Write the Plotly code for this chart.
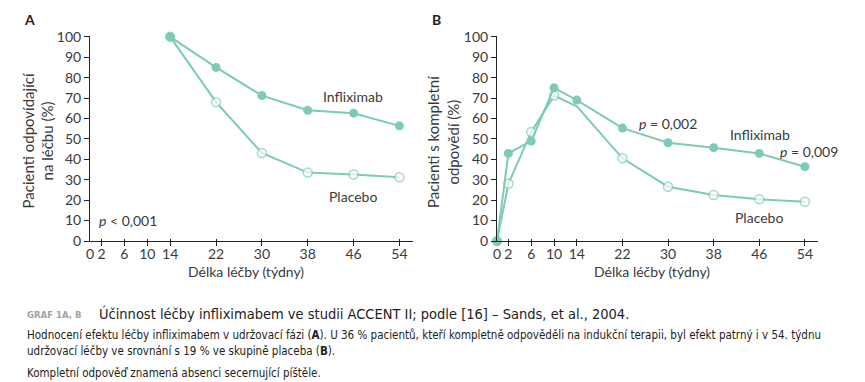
import plotly.graph_objects as go

# ---- data ----
weeks_a = [14, 22, 30, 38, 46, 54]
infl_a = [100, 85, 71.2, 64, 62.6, 56.4]
plac_a = [100, 68, 43.1, 33.5, 32.6, 31.2]

weeks_b = [0, 2, 6, 10, 14, 22, 30, 38, 46, 54]
infl_b = [0, 42.9, 49, 75, 69, 55.3, 48.1, 45.7, 42.9, 36.4]
plac_b = [0, 28, 53.4, 71.2, 66, 40.5, 26.6, 22.5, 20.4, 19.2]

tick_weeks = [0, 2, 6, 10, 14, 22, 30, 38, 46, 54]
tick_pct = [0, 10, 20, 30, 40, 50, 60, 70, 80, 90, 100]

TEAL = "#7dccb1"
TXT = "#3a3a3a"
FONT = "Lato"

# page body has an 8px margin: work in screen pixels, convert to figure
OFF = 8
W, H = 865 - OFF, 382 - OFF

def px(x, y):
    return (x - OFF) / W, (H - (y - OFF)) / H

fig = go.Figure()

def add_panel(xs, yi, yp, xa, ya, hidden_plac=()):
    sizes = [0 if x in hidden_plac else 9 for x in xs]
    fig.add_trace(go.Scatter(
        x=xs, y=yp, mode="lines+markers", xaxis=xa, yaxis=ya,
        line=dict(color=TEAL, width=2),
        marker=dict(size=sizes, color="white", line=dict(color=TEAL, width=1.5)),
        cliponaxis=False, showlegend=False, hoverinfo="skip"))
    fig.add_trace(go.Scatter(
        x=xs, y=yi, mode="lines+markers", xaxis=xa, yaxis=ya,
        line=dict(color=TEAL, width=2),
        marker=dict(size=9, color=TEAL, line=dict(color=TEAL, width=0)),
        cliponaxis=False, showlegend=False, hoverinfo="skip"))

add_panel(weeks_a, infl_a, plac_a, "x", "y")
add_panel(weeks_b, infl_b, plac_b, "x2", "y2", hidden_plac=(14,))

xcommon = dict(range=[0, 56.3], tickmode="array", tickvals=tick_weeks,
               showline=True, linecolor="#222", linewidth=1, showgrid=False,
               zeroline=False, ticks="inside", ticklen=2, tickcolor="#222",
               tickwidth=1, automargin=False,
               minor=dict(tickmode="array", tickvals=tick_weeks, ticks="outside",
                          ticklen=4, tickcolor="#222", tickwidth=1),
               tickfont=dict(family=FONT, size=14, color=TXT), fixedrange=True)
ycommon = dict(range=[0, 100.4], tickmode="array", tickvals=tick_pct,
               showline=True, linecolor="#222", linewidth=1, showgrid=False,
               zeroline=False, ticks="outside", ticklen=5, tickcolor="#222",
               tickwidth=1, automargin=False,
               tickfont=dict(family=FONT, size=14, color=TXT),
               fixedrange=True)

xa0, ya0 = px(90, 241)
xa1, ya1 = px(412.6, 36)
xb0, _ = px(497, 241)
xb1, _ = px(818, 36)

fig.update_layout(
    width=W, height=H,
    margin=dict(l=0, r=0, t=0, b=0),
    paper_bgcolor="white", plot_bgcolor="white",
    font=dict(family=FONT, color=TXT),
    xaxis=dict(xcommon, domain=[xa0, xa1], anchor="y"),
    yaxis=dict(ycommon, domain=[ya0, ya1], anchor="x"),
    xaxis2=dict(xcommon, domain=[xb0, xb1], anchor="y2"),
    yaxis2=dict(ycommon, domain=[ya0, ya1], anchor="x2"),
)

def ann(text, x, y, xref="paper", yref="paper", size=14, xanchor="center",
        yanchor="middle", angle=0, color=TXT, family=FONT, align="center"):
    fig.add_annotation(text=text, x=x, y=y, xref=xref, yref=yref,
                       showarrow=False, xanchor=xanchor, yanchor=yanchor,
                       textangle=angle, align=align,
                       font=dict(size=size, color=color, family=family))

# panel letters
ann("<b>A</b>", *px(29, 19), size=14, color="#222")
ann("<b>B</b>", *px(436, 19), size=14, color="#222")

# axis titles
ann("Délka léčby (týdny)", *px(246, 271))
ann("Délka léčby (týdny)", *px(652, 271))
ann("Pacienti odpovídající<br>na léčbu (%)", *px(37, 140.5), angle=-90, size=15)
ann("Pacienti s kompletní<br>odpovědí (%)", *px(442.5, 141.5), angle=-90, size=15)

# in-plot labels (data coords)
ann("Infliximab", 45.9, 71, "x", "y")
ann("Placebo", 45.9, 22, "x", "y")
ann("<i>p</i> < 0,001", 1.2, 9.8, "x", "y", xanchor="left")
ann("<i>p</i> = 0,002", 24.6, 57.3, "x2", "y2", xanchor="left")
ann("Infliximab", 46.05, 52.4, "x2", "y2")
ann("<i>p</i> = 0,009", 49.3, 44, "x2", "y2", xanchor="left")
ann("Placebo", 46, 11.3, "x2", "y2")

# caption
CAP = "DejaVu Sans Condensed, Liberation Sans Narrow, Roboto, sans-serif"
ann("<b>GRAF 1A, B</b>", *px(25, 314), size=9.5, color="#a3a3a3", family=CAP,
    xanchor="left")
ann("Účinnost léčby infliximabem ve studii ACCENT II; podle [16] – Sands, et al., 2004.",
    *px(97, 313), size=14.5, color="#222", family=CAP, xanchor="left")
ann("Hodnocení efektu léčby infliximabem v udržovací fázi (<b>A</b>). U 36 % pacientů, "
    "kteří kompletně odpověděli na indukční terapii, byl efekt patrný i v 54. týdnu",
    *px(25, 335), size=11.5, color="#222", family=CAP, xanchor="left")
ann("udržovací léčby ve srovnání s 19 % ve skupině placeba (<b>B</b>).",
    *px(25, 351), size=11.5, color="#222", family=CAP, xanchor="left")
ann("Kompletní odpověď znamená absenci secernující píštěle.",
    *px(25, 373), size=11.5, color="#222", family=CAP, xanchor="left")

fig.write_html("out.html")
